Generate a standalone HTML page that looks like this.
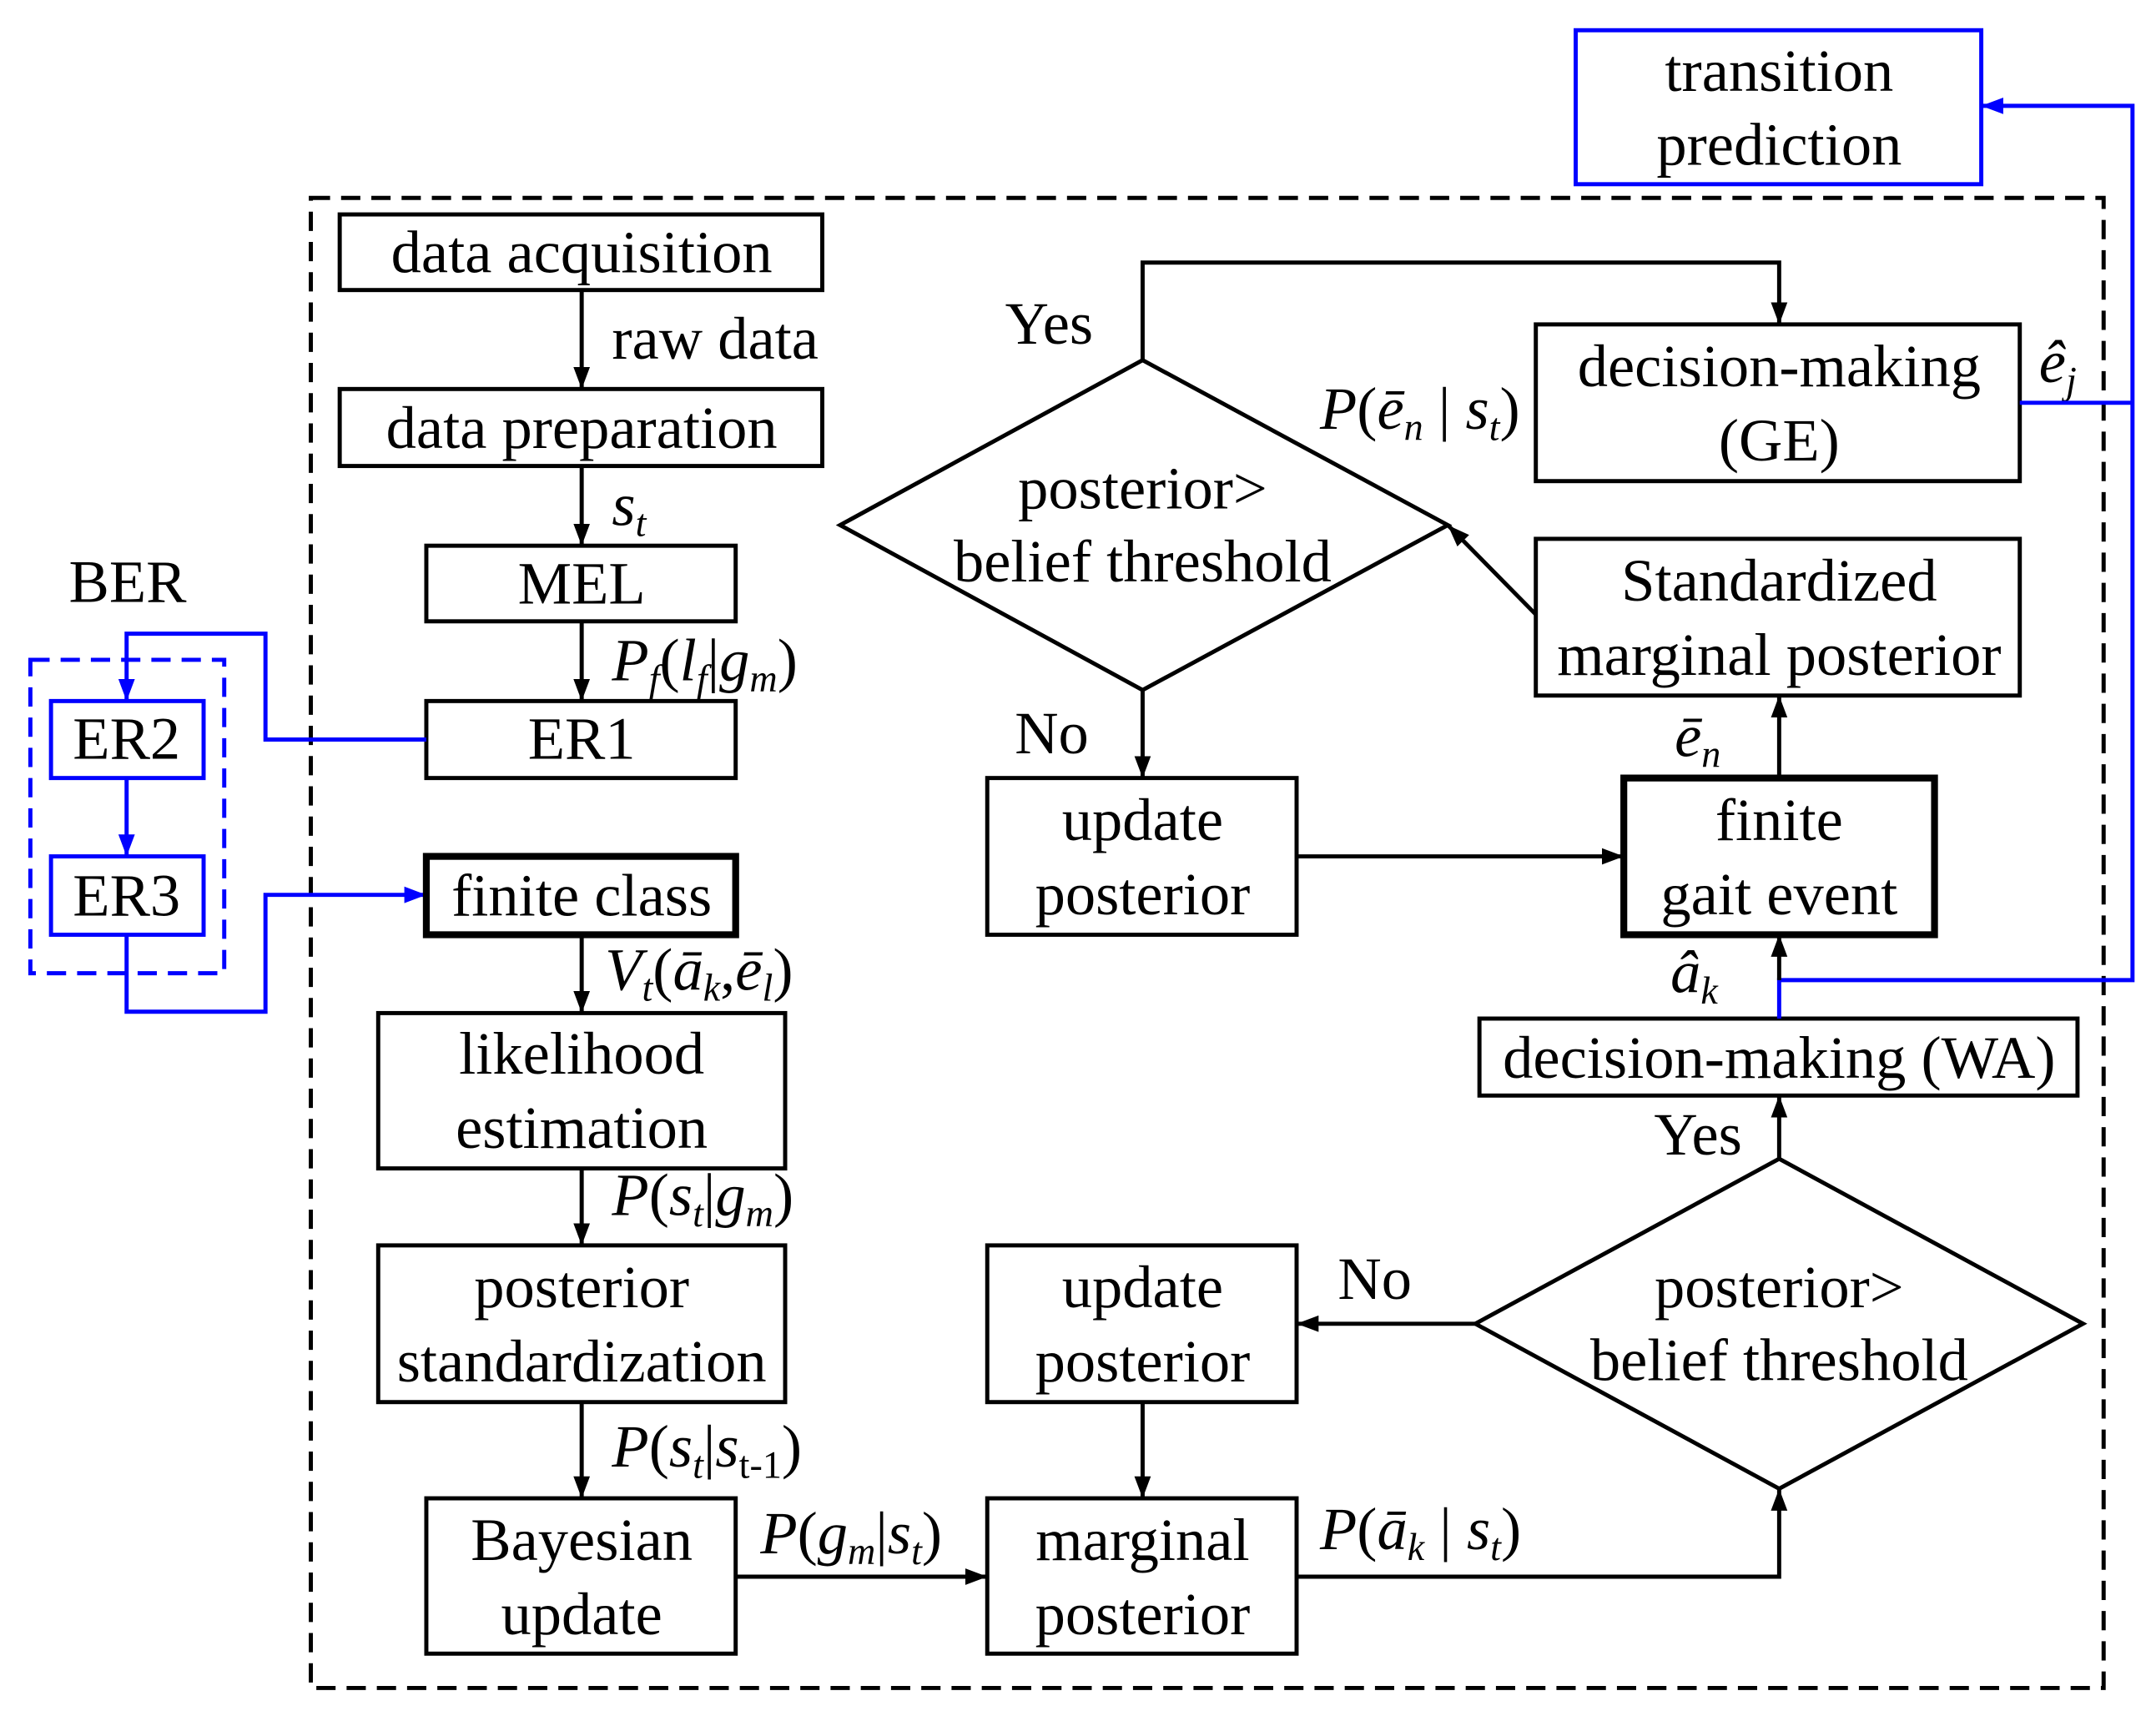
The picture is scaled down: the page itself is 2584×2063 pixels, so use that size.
<!DOCTYPE html>
<html><head><meta charset="utf-8"><style>
html,body{margin:0;padding:0;background:#fff;}
svg{display:block;}
text{font-family:"Liberation Serif",serif;font-size:44px;fill:#000;}
.b{fill:none;stroke:#000;stroke-width:3;}
.bl{fill:none;stroke:#0000ff;stroke-width:3;}
.it{font-style:italic;}
</style></head><body>
<svg width="2584" height="2063" viewBox="0 0 1568 1252" xmlns="http://www.w3.org/2000/svg">
<defs>
<marker id="ab" markerWidth="16" markerHeight="16" refX="16" refY="8" orient="auto" markerUnits="userSpaceOnUse"><path d="M0,2 L16,8 L0,14 Z" fill="#0000ff"/></marker>
<marker id="ak" markerWidth="16" markerHeight="16" refX="16" refY="8" orient="auto" markerUnits="userSpaceOnUse"><path d="M0,2 L16,8 L0,14 Z" fill="#000"/></marker>
</defs>
<rect width="1568" height="1252" fill="#fff"/>
<rect x="226" y="144" width="1304" height="1084" fill="none" stroke="#000" stroke-width="3" stroke-dasharray="14,8"/>
<rect x="1146" y="22" width="295" height="112" class="bl"/>
<text x="1294" y="66" text-anchor="middle">transition</text>
<text x="1294" y="120" text-anchor="middle">prediction</text>
<rect x="247" y="156" width="351" height="55" class="b"/>
<text x="423" y="198" text-anchor="middle">data acquisition</text>
<line x1="423" y1="211" x2="423" y2="283" class="b" marker-end="url(#ak)"/>
<text x="445" y="261">raw data</text>
<rect x="247" y="283" width="351" height="56" class="b"/>
<text x="423" y="326" text-anchor="middle">data preparation</text>
<line x1="423" y1="339" x2="423" y2="397" class="b" marker-end="url(#ak)"/>
<text x="445" y="382" class="it">s<tspan font-size="28" dy="8">t</tspan></text>
<rect x="310" y="397" width="225" height="55" class="b"/>
<text x="423" y="439" text-anchor="middle">MEL</text>
<line x1="423" y1="452" x2="423" y2="510" class="b" marker-end="url(#ak)"/>
<text x="445" y="495" class="it">P<tspan font-size="28" dy="8">f</tspan><tspan dy="-8" font-style="normal">(</tspan>l<tspan font-size="28" dy="8">f</tspan><tspan dy="-8" font-style="normal">|</tspan>g<tspan font-size="28" dy="8">m</tspan><tspan dy="-8" font-style="normal">)</tspan></text>
<rect x="310" y="510" width="225" height="56" class="b"/>
<text x="423" y="552" text-anchor="middle">ER1</text>
<text x="50" y="438">BER</text>
<rect x="22" y="480" width="141" height="228" fill="none" stroke="#0000ff" stroke-width="3" stroke-dasharray="14,8"/>
<rect x="37" y="510" width="111" height="56" class="bl"/>
<text x="92" y="552" text-anchor="middle">ER2</text>
<rect x="37" y="623" width="111" height="57" class="bl"/>
<text x="92" y="666" text-anchor="middle">ER3</text>
<line x1="92" y1="566" x2="92" y2="623" class="bl" marker-end="url(#ab)"/>
<polyline points="310,538 193,538 193,461 92,461 92,510" class="bl" marker-end="url(#ab)"/>
<polyline points="92,680 92,736 193,736 193,651 310,651" class="bl" marker-end="url(#ab)"/>
<rect x="310" y="623" width="225" height="57" fill="none" stroke="#000" stroke-width="5"/>
<text x="423" y="666" text-anchor="middle">finite class</text>
<line x1="423" y1="680" x2="423" y2="737" class="b" marker-end="url(#ak)"/>
<text x="440" y="720" class="it">V<tspan font-size="28" dy="8">t</tspan><tspan dy="-8" font-style="normal">(</tspan>ā<tspan font-size="28" dy="8">k</tspan><tspan dy="-8" font-style="normal">,</tspan>ē<tspan font-size="28" dy="8">l</tspan><tspan dy="-8" font-style="normal">)</tspan></text>
<rect x="275" y="737" width="296" height="113" class="b"/>
<text x="423" y="781" text-anchor="middle">likelihood</text>
<text x="423" y="835" text-anchor="middle">estimation</text>
<line x1="423" y1="850" x2="423" y2="906" class="b" marker-end="url(#ak)"/>
<text x="445" y="884" class="it">P<tspan font-style="normal">(</tspan>s<tspan font-size="28" dy="8">t</tspan><tspan dy="-8" font-style="normal">|</tspan>g<tspan font-size="28" dy="8">m</tspan><tspan dy="-8" font-style="normal">)</tspan></text>
<rect x="275" y="906" width="296" height="114" class="b"/>
<text x="423" y="951" text-anchor="middle">posterior</text>
<text x="423" y="1005" text-anchor="middle">standardization</text>
<line x1="423" y1="1020" x2="423" y2="1090" class="b" marker-end="url(#ak)"/>
<text x="445" y="1067" class="it">P<tspan font-style="normal">(</tspan>s<tspan font-size="28" dy="8">t</tspan><tspan dy="-8" font-style="normal">|</tspan>s<tspan font-size="28" dy="8" font-style="normal">t-1</tspan><tspan dy="-8" font-style="normal">)</tspan></text>
<rect x="310" y="1090" width="225" height="113" class="b"/>
<text x="423" y="1135" text-anchor="middle">Bayesian</text>
<text x="423" y="1189" text-anchor="middle">update</text>
<line x1="535" y1="1147" x2="718" y2="1147" class="b" marker-end="url(#ak)"/>
<text x="553" y="1130" class="it">P<tspan font-style="normal">(</tspan>g<tspan font-size="28" dy="8">m</tspan><tspan dy="-8" font-style="normal">|</tspan>s<tspan font-size="28" dy="8">t</tspan><tspan dy="-8" font-style="normal">)</tspan></text>
<rect x="718" y="1090" width="225" height="113" class="b"/>
<text x="831" y="1135" text-anchor="middle">marginal</text>
<text x="831" y="1189" text-anchor="middle">posterior</text>
<polyline points="943,1147 1294,1147 1294,1083" class="b" marker-end="url(#ak)"/>
<text x="960" y="1127" class="it">P<tspan font-style="normal">(</tspan>ā<tspan font-size="28" dy="8">k</tspan><tspan dy="-8" font-style="normal"> | </tspan>s<tspan font-size="28" dy="8">t</tspan><tspan dy="-8" font-style="normal">)</tspan></text>
<polygon points="1073,963 1294,843 1515,963 1294,1083" class="b"/>
<text x="1294" y="951" text-anchor="middle">posterior&gt;</text>
<text x="1294" y="1004" text-anchor="middle">belief threshold</text>
<line x1="1073" y1="963" x2="943" y2="963" class="b" marker-end="url(#ak)"/>
<text x="973" y="945">No</text>
<rect x="718" y="906" width="225" height="114" class="b"/>
<text x="831" y="951" text-anchor="middle">update</text>
<text x="831" y="1005" text-anchor="middle">posterior</text>
<line x1="831" y1="1020" x2="831" y2="1090" class="b" marker-end="url(#ak)"/>
<line x1="1294" y1="843" x2="1294" y2="797" class="b" marker-end="url(#ak)"/>
<text x="1203" y="840">Yes</text>
<rect x="1076" y="741" width="435" height="56" class="b"/>
<text x="1294" y="784" text-anchor="middle">decision-making (WA)</text>
<polyline points="1294,741 1294,713 1551,713 1551,77 1441,77" class="bl" marker-end="url(#ab)"/>
<line x1="1294" y1="713" x2="1294" y2="680" class="b" marker-end="url(#ak)"/>
<text x="1215" y="722" class="it">â<tspan font-size="28" dy="8">k</tspan></text>
<rect x="1181" y="566" width="226" height="114" fill="none" stroke="#000" stroke-width="5"/>
<text x="1294" y="611" text-anchor="middle">finite</text>
<text x="1294" y="665" text-anchor="middle">gait event</text>
<line x1="1294" y1="566" x2="1294" y2="506" class="b" marker-end="url(#ak)"/>
<text x="1218" y="550" class="it">ē<tspan font-size="28" dy="8">n</tspan></text>
<rect x="1117" y="392" width="352" height="114" class="b"/>
<text x="1294" y="437" text-anchor="middle">Standardized</text>
<text x="1294" y="491" text-anchor="middle">marginal posterior</text>
<line x1="1117" y1="447" x2="1053" y2="382" class="b" marker-end="url(#ak)"/>
<polygon points="611,382 831,262 1053,382 831,502" class="b"/>
<text x="831" y="370" text-anchor="middle">posterior&gt;</text>
<text x="831" y="423" text-anchor="middle">belief threshold</text>
<text x="960" y="312" class="it">P<tspan font-style="normal">(</tspan>ē<tspan font-size="28" dy="8">n</tspan><tspan dy="-8" font-style="normal"> | </tspan>s<tspan font-size="28" dy="8">t</tspan><tspan dy="-8" font-style="normal">)</tspan></text>
<text x="731" y="250">Yes</text>
<polyline points="831,262 831,191 1294,191 1294,236" class="b" marker-end="url(#ak)"/>
<rect x="1117" y="236" width="352" height="114" class="b"/>
<text x="1294" y="281" text-anchor="middle">decision-making</text>
<text x="1294" y="335" text-anchor="middle">(GE)</text>
<text x="1483" y="278" class="it">ê<tspan font-size="28" dy="8">j</tspan></text>
<line x1="1469" y1="293" x2="1551" y2="293" class="bl"/>
<text x="738" y="548">No</text>
<line x1="831" y1="502" x2="831" y2="566" class="b" marker-end="url(#ak)"/>
<rect x="718" y="566" width="225" height="114" class="b"/>
<text x="831" y="611" text-anchor="middle">update</text>
<text x="831" y="665" text-anchor="middle">posterior</text>
<line x1="943" y1="623" x2="1181" y2="623" class="b" marker-end="url(#ak)"/>
</svg>
</body></html>
